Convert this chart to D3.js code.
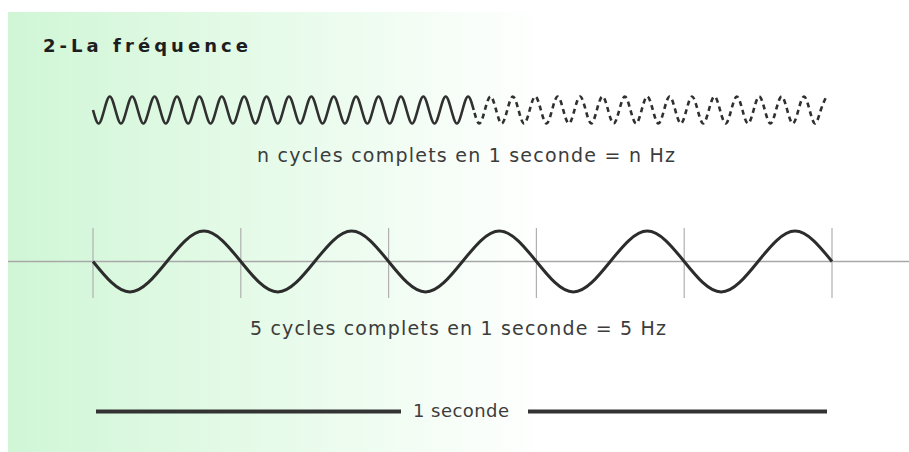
<!DOCTYPE html>
<html>
<head>
<meta charset="utf-8">
<script src="https://cdn.jsdelivr.net/npm/d3@7/dist/d3.min.js"></script>
<style>
  body { margin: 0; background: #fff; }
  svg { display: block; }
  text { font-family: "DejaVu Sans", Verdana, sans-serif; fill: #3c3c3c; }
</style>
</head>
<body>
<svg id="chart" width="909" height="452"></svg>
<script>
// values
var titleText = "2-La fréquence";
var topLabel = "n cycles complets en 1 seconde = n Hz";
var bottomLabel = "5 cycles complets en 1 seconde = 5 Hz";
var barLabel = "1 seconde";
var secondTicks = [0, 0.2, 0.4, 0.6, 0.8, 1];
// fast wave: 33 cycles per second, one value per quarter cycle, drawn up to the last crest
var topCycles = 33;
var topWave = [
  0, -1, 0, 1, 0, -1, 0, 1, 0, -1, 0, 1, 0, -1, 0, 1,
  0, -1, 0, 1, 0, -1, 0, 1, 0, -1, 0, 1, 0, -1, 0, 1,
  0, -1, 0, 1, 0, -1, 0, 1, 0, -1, 0, 1, 0, -1, 0, 1,
  0, -1, 0, 1, 0, -1, 0, 1, 0, -1, 0, 1, 0, -1, 0, 1,
  0, -1, 0, 1, 0, -1, 0, 1, 0, -1, 0, 1, 0, -1, 0, 1,
  0, -1, 0, 1, 0, -1, 0, 1, 0, -1, 0, 1, 0, -1, 0, 1,
  0, -1, 0, 1, 0, -1, 0, 1, 0, -1, 0, 1, 0, -1, 0, 1,
  0, -1, 0, 1, 0, -1, 0, 1, 0, -1, 0, 1, 0, -1, 0, 1,
  0, -1, 0, 1
];
var topSolidUntil = 68; // index where the solid stroke turns into dashes
// slow wave: 5 cycles per second
var bottomCycles = 5;
var bottomWave = [0, -1, 0, 1, 0, -1, 0, 1, 0, -1, 0, 1, 0, -1, 0, 1, 0, -1, 0, 1, 0];

var svg = d3.select("#chart");
var width = 909, height = 452;

var defs = svg.append("defs");
var grad = defs.append("linearGradient").attr("id", "bg").attr("x1", "0").attr("x2", "1").attr("y1", "0").attr("y2", "0");
grad.append("stop").attr("offset", "0").attr("stop-color", "#d0f6d6");
grad.append("stop").attr("offset", "0.3").attr("stop-color", "#e7fbea");
grad.append("stop").attr("offset", "0.6").attr("stop-color", "#ffffff");
grad.append("stop").attr("offset", "1").attr("stop-color", "#ffffff");

svg.append("rect").attr("x", 8).attr("y", 12).attr("width", width - 8).attr("height", height - 12).attr("fill", "url(#bg)");

// one second spans the same width for both waves
var xSec = d3.scaleLinear().domain([0, 1]).range([93, 832]);
var yTop = d3.scaleLinear().domain([-1, 1]).range([123.5, 96.5]);
var yBottom = d3.scaleLinear().domain([-1, 1]).range([292, 231]);

function waveLine(cycles, yScale) {
    return d3.line()
        .x(function(d) { return xSec(d.i / (4 * cycles)); })
        .y(function(d) { return yScale(d.v); })
        .curve(d3.curveNatural);
}

var topPts = topWave.map(function(v, i) { return {i: i, v: v}; });
var topLine = waveLine(topCycles, yTop);

svg.append("path").attr("d", topLine(topPts.slice(0, topSolidUntil + 1)))
    .attr("fill", "none").attr("stroke", "#303030").attr("stroke-width", 2.6);
svg.append("path").attr("d", topLine(topPts.slice(topSolidUntil)))
    .attr("fill", "none").attr("stroke", "#303030").attr("stroke-width", 2.6)
    .attr("stroke-dasharray", "5,4").attr("stroke-dashoffset", -3);

svg.append("text").attr("x", 466).attr("y", 162).attr("text-anchor", "middle")
    .attr("font-size", "19px").attr("textLength", 418).attr("lengthAdjust", "spacing").text(topLabel);

// axis line and the one-fifth-second marks
var mid = yBottom(0);
svg.append("line").attr("x1", 8).attr("x2", width).attr("y1", mid).attr("y2", mid)
    .attr("stroke", "#a8a8a8").attr("stroke-width", 1.5);
svg.selectAll(".tick").data(secondTicks).enter().append("line").attr("class", "tick")
    .attr("x1", function(d) { return xSec(d); }).attr("x2", function(d) { return xSec(d); })
    .attr("y1", 228).attr("y2", 298)
    .attr("stroke", "#b0b0b0").attr("stroke-width", 1.2);

var bottomPts = bottomWave.map(function(v, i) { return {i: i, v: v}; });
svg.append("path").attr("d", waveLine(bottomCycles, yBottom)(bottomPts))
    .attr("fill", "none").attr("stroke", "#2c2c2c").attr("stroke-width", 3);

svg.append("text").attr("x", 458).attr("y", 335).attr("text-anchor", "middle")
    .attr("font-size", "19px").attr("textLength", 416).attr("lengthAdjust", "spacing").text(bottomLabel);

// scale bar: one second with the label in a gap
var barY = 411.5;
var bar = svg.append("g");
var barText = bar.append("text").attr("x", 461).attr("y", 417).attr("text-anchor", "middle")
    .attr("font-size", "18px").attr("textLength", 96).attr("lengthAdjust", "spacing").text(barLabel);
var bb = barText.node().getBBox();
bar.append("line").attr("x1", xSec(0) + 3).attr("x2", bb.x - 12).attr("y1", barY).attr("y2", barY)
    .attr("stroke", "#333").attr("stroke-width", 4);
bar.append("line").attr("x1", bb.x + bb.width + 19).attr("x2", xSec(1) - 5).attr("y1", barY).attr("y2", barY)
    .attr("stroke", "#333").attr("stroke-width", 4);

svg.append("text").attr("x", 43).attr("y", 52).attr("font-size", "18px").attr("font-weight", "bold")
    .attr("textLength", 205).attr("lengthAdjust", "spacing").style("fill", "#1e1e1e").text(titleText);
</script>
</body>
</html>
